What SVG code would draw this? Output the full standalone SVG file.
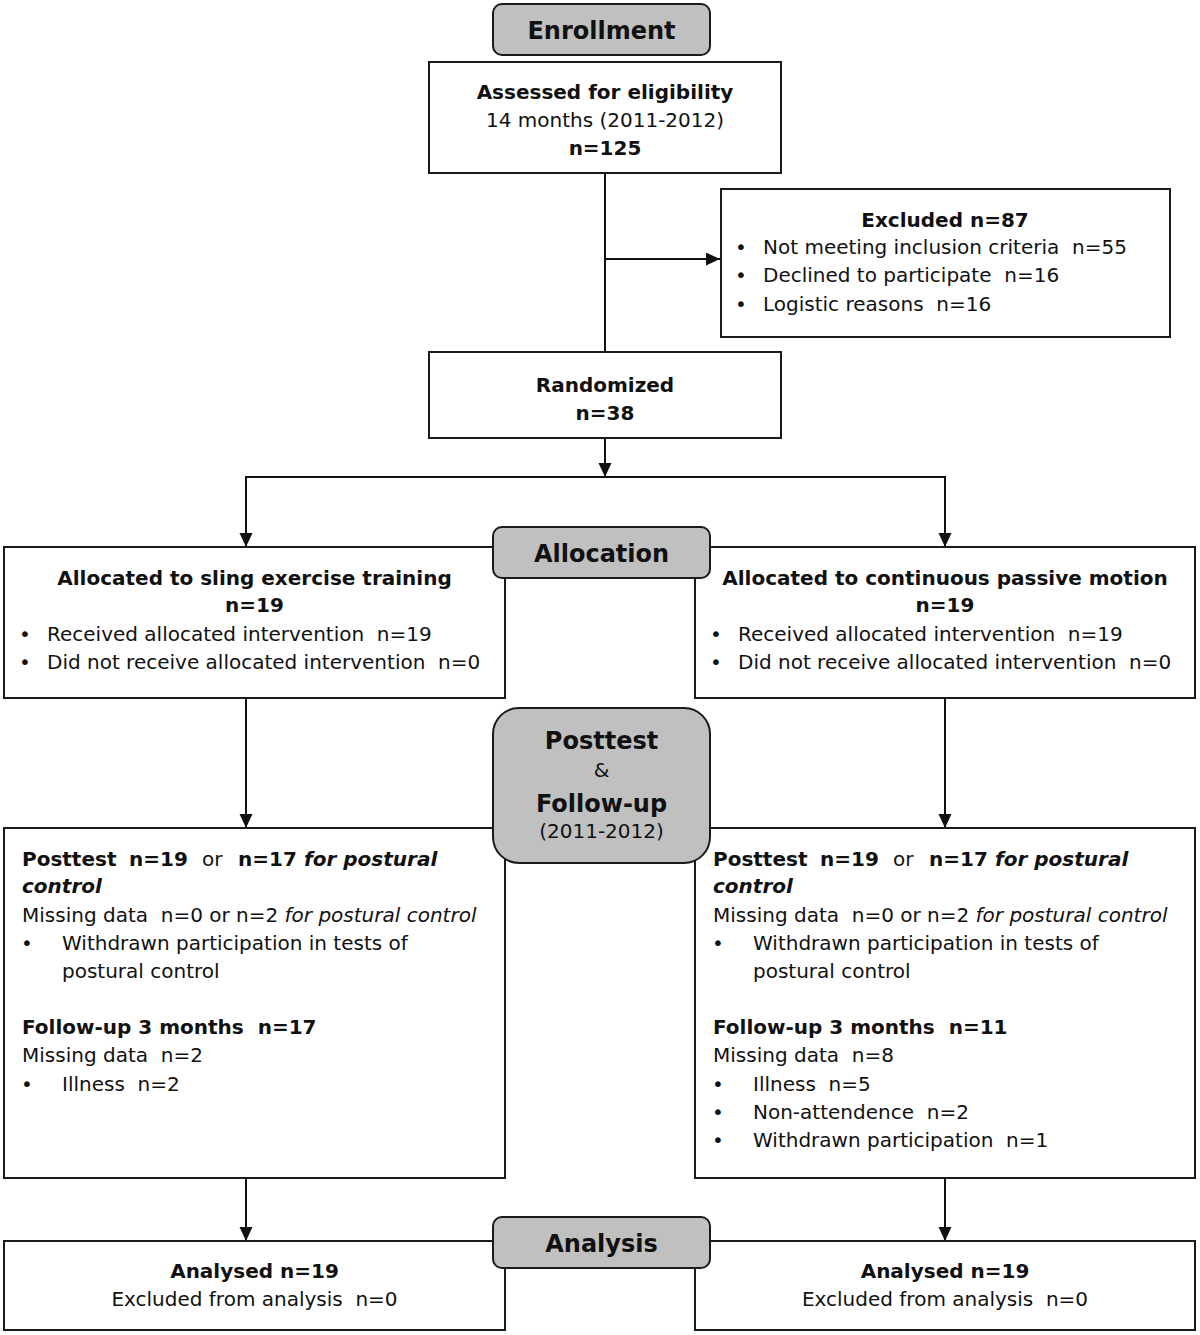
<svg xmlns="http://www.w3.org/2000/svg" width="1200" height="1335" viewBox="0 0 1200 1335">
<style>
text{font-family:"DejaVu Sans",Verdana,sans-serif;font-size:20px;fill:#111;}
.b{font-weight:bold;}
.i{font-style:italic;}
.c{text-anchor:middle;}
.lbl{font-size:24px;font-weight:bold;text-anchor:middle;}
.box{fill:#fff;stroke:#1a1a1a;stroke-width:2;}
.tag{fill:#c0c0c0;stroke:#1a1a1a;stroke-width:2;}
.con{fill:none;stroke:#111;stroke-width:2;}
</style>
<defs>
<marker id="ah" markerUnits="userSpaceOnUse" markerWidth="14" markerHeight="14" refX="14" refY="6.5" orient="auto"><path d="M0,0 L14,6.5 L0,13 z" fill="#111"/></marker>
</defs>
<rect width="1200" height="1335" fill="#fff"/>
<g id="connectors">
<path class="con" d="M605,173 V352"/>
<path class="con" d="M605,259 H720" marker-end="url(#ah)"/>
<path class="con" d="M605,438 V477" marker-end="url(#ah)"/>
<path class="con" d="M605,477 H246 V547" marker-end="url(#ah)"/>
<path class="con" d="M605,477 H945 V547" marker-end="url(#ah)"/>
<path class="con" d="M246,698 V828" marker-end="url(#ah)"/>
<path class="con" d="M945,698 V828" marker-end="url(#ah)"/>
<path class="con" d="M246,1178 V1241" marker-end="url(#ah)"/>
<path class="con" d="M945,1178 V1241" marker-end="url(#ah)"/>
</g>
<g id="assessed">
<rect class="box" x="429" y="62" width="352" height="111"/>
<text class="b c" x="605" y="99">Assessed for eligibility</text>
<text class="c" x="605" y="127">14 months (2011-2012)</text>
<text class="b c" x="605" y="155">n=125</text>
</g>
<g id="excluded">
<rect class="box" x="721" y="189" width="449" height="148"/>
<text class="b c" x="945" y="227">Excluded n=87</text>
<text x="735" y="254">•</text><text x="763" y="254">Not meeting inclusion criteria &#160;n=55</text>
<text x="735" y="282">•</text><text x="763" y="282">Declined to participate &#160;n=16</text>
<text x="735" y="311">•</text><text x="763" y="311">Logistic reasons &#160;n=16</text>
</g>
<g id="randomized">
<rect class="box" x="429" y="352" width="352" height="86"/>
<text class="b c" x="605" y="392">Randomized</text>
<text class="b c" x="605" y="420">n=38</text>
</g>
<g id="alloc-left">
<rect class="box" x="4" y="547" width="501" height="151"/>
<text class="b c" x="254.5" y="585">Allocated to sling exercise training</text>
<text class="b c" x="254.5" y="612">n=19</text>
<text x="19" y="641">•</text><text x="47" y="641">Received allocated intervention &#160;n=19</text>
<text x="19" y="669">•</text><text x="47" y="669">Did not receive allocated intervention &#160;n=0</text>
</g>
<g id="alloc-right">
<rect class="box" x="695" y="547" width="500" height="151"/>
<text class="b c" x="945" y="585">Allocated to continuous passive motion</text>
<text class="b c" x="945" y="612">n=19</text>
<text x="710" y="641">•</text><text x="738" y="641">Received allocated intervention &#160;n=19</text>
<text x="710" y="669">•</text><text x="738" y="669">Did not receive allocated intervention &#160;n=0</text>
</g>
<g id="post-left">
<rect class="box" x="4" y="828" width="501" height="350"/>
<text y="866"><tspan class="b" x="22">Posttest</tspan><tspan class="b" x="129">n=19</tspan><tspan x="202">or</tspan><tspan class="b" x="238">n=17</tspan><tspan class="b i" x="304">for postural</tspan></text>
<text class="b i" x="22" y="893">control</text>
<text x="22" y="922">Missing data &#160;n=0 or n=2 <tspan class="i">for postural control</tspan></text>
<text x="21" y="950">•</text><text x="62" y="950">Withdrawn participation in tests of</text>
<text x="62" y="978">postural control</text>
<text class="b" x="22" y="1034">Follow-up 3 months &#160;n=17</text>
<text x="22" y="1062">Missing data &#160;n=2</text>
<text x="21" y="1091">•</text><text x="62" y="1091">Illness &#160;n=2</text>
</g>
<g id="post-right">
<rect class="box" x="695" y="828" width="500" height="350"/>
<text y="866"><tspan class="b" x="713">Posttest</tspan><tspan class="b" x="820">n=19</tspan><tspan x="893">or</tspan><tspan class="b" x="929">n=17</tspan><tspan class="b i" x="995">for postural</tspan></text>
<text class="b i" x="713" y="893">control</text>
<text x="713" y="922">Missing data &#160;n=0 or n=2 <tspan class="i">for postural control</tspan></text>
<text x="712" y="950">•</text><text x="753" y="950">Withdrawn participation in tests of</text>
<text x="753" y="978">postural control</text>
<text class="b" x="713" y="1034">Follow-up 3 months &#160;n=11</text>
<text x="713" y="1062">Missing data &#160;n=8</text>
<text x="712" y="1091">•</text><text x="753" y="1091">Illness &#160;n=5</text>
<text x="712" y="1119">•</text><text x="753" y="1119">Non-attendence &#160;n=2</text>
<text x="712" y="1147">•</text><text x="753" y="1147">Withdrawn participation &#160;n=1</text>
</g>
<g id="analysis-left">
<rect class="box" x="4" y="1241" width="501" height="89"/>
<text class="b c" x="254.5" y="1278">Analysed n=19</text>
<text class="c" x="254.5" y="1306">Excluded from analysis &#160;n=0</text>
</g>
<g id="analysis-right">
<rect class="box" x="695" y="1241" width="500" height="89"/>
<text class="b c" x="945" y="1278">Analysed n=19</text>
<text class="c" x="945" y="1306">Excluded from analysis &#160;n=0</text>
</g>
<g id="label-enrollment">
<rect class="tag" x="493" y="4" width="217" height="51" rx="9"/>
<text class="lbl" x="601.5" y="39">Enrollment</text>
</g>
<g id="label-allocation">
<rect class="tag" x="493" y="527" width="217" height="51" rx="9"/>
<text class="lbl" x="601.5" y="562">Allocation</text>
</g>
<g id="label-posttest">
<rect class="tag" x="493" y="708" width="217" height="155" rx="26"/>
<text class="lbl" x="601.5" y="749">Posttest</text>
<text class="c" x="601.5" y="777">&amp;</text>
<text class="lbl" x="601.5" y="812">Follow-up</text>
<text class="c" x="601.5" y="838">(2011-2012)</text>
</g>
<g id="label-analysis">
<rect class="tag" x="493" y="1217" width="217" height="51" rx="9"/>
<text class="lbl" x="601.5" y="1252">Analysis</text>
</g>
</svg>
